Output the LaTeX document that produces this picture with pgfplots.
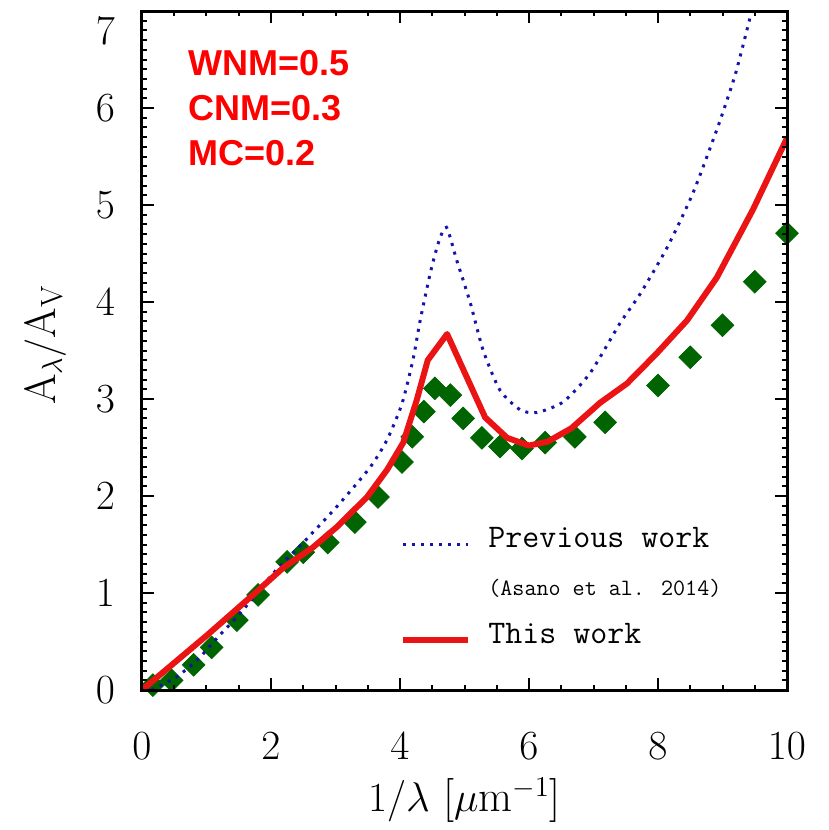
\documentclass[border=0pt]{standalone}
\usepackage{fontspec}
\usepackage{pgfplots}
\pgfplotsset{compat=1.18}
\newfontfamily\arialfont{Liberation Sans}
\definecolor{myred}{RGB}{235,20,20}
\definecolor{txtred}{RGB}{255,0,0}
\definecolor{myblue}{RGB}{20,20,170}
\definecolor{mygreen}{RGB}{0,100,0}
\begin{document}
\begin{tikzpicture}
\useasboundingbox (-71pt,-70pt) rectangle (343.5pt,345pt);
\begin{axis}[
 at={(0pt,0pt)}, anchor=south west,
 scale only axis, width=322.5pt, height=339.5pt,
 xmin=0, xmax=10, ymin=0, ymax=7,
 axis on top, clip mode=individual,
 xtick={0,2,4,6,8,10}, ytick={0,1,2,3,4,5,6},
 extra y ticks={7},
 extra y tick style={yticklabel style={anchor=north east}},
 minor x tick num=3, minor y tick num=9,
 tick align=inside, tick pos=both,
 major tick length=6pt, minor tick length=2.5pt,
 axis line style={line width=1.5pt},
 tick style={draw=black, line width=1pt},
 tick label style={font=\fontsize{21}{25}\selectfont},
 xticklabel style={yshift=-18pt},
 yticklabel style={xshift=-10pt},
 xlabel={$1/\lambda$ [$\mu$m$^{-1}$]},
 ylabel={$\mathrm{A}_{\lambda}/\mathrm{A}_{\mathrm{V}}$},
 xlabel style={font=\fontsize{22}{26}\selectfont, at={(axis description cs:0.5,-0.162)}, anchor=center},
 ylabel style={font=\fontsize{22}{26}\selectfont, at={(axis description cs:-0.15,0.508)}, anchor=center},
 legend style={at={(rel axis cs:0.4,0.246)}, anchor=north west, draw=none, fill=none,
   inner sep=0pt, column sep=8.5pt, row sep=9pt,
   nodes={inner sep=0pt, text height=12pt, text depth=3pt},
   font=\ttfamily\fontsize{16.5}{19}\selectfont},
 legend cell align=left,
 legend image code/.code={\draw[#1] (0pt,-3pt) -- (32.5pt,-3pt);},
]
\addplot[only marks, mark=square*, mark size=4pt, mark options={rotate=45, fill=mygreen, draw=mygreen}, forget plot] coordinates {
(0.17,0.05) (0.46,0.10) (0.8,0.26) (1.08,0.44) (1.47,0.72) (1.8,0.98) (2.25,1.32) (2.5,1.42) (2.88,1.52)
(3.3,1.73) (3.66,1.99) (4.03,2.35) (4.19,2.61) (4.37,2.87) (4.54,3.11) (4.78,3.04) (4.98,2.80)
(5.27,2.60) (5.55,2.51) (5.89,2.49) (6.25,2.55) (6.71,2.61) (7.18,2.76) (8.0,3.14) (8.5,3.43)
(9.0,3.76) (9.5,4.21) (10.0,4.71)
};
\addplot[myblue, line width=1.5pt, dash pattern=on 1.5pt off 3pt, smooth, tension=0.4] coordinates {
(0.15,0.0) (0.5,0.12) (0.74,0.24) (0.93,0.36) (1.21,0.57) (1.4,0.70) (1.7,0.93) (2.03,1.2) (2.5,1.52)
(3.02,1.89) (3.53,2.29) (3.8,2.58) (4.03,2.95) (4.2,3.4) (4.31,3.8) (4.47,4.3) (4.6,4.62) (4.72,4.77)
(4.88,4.43) (5.09,3.99) (5.29,3.5) (5.55,3.09) (5.86,2.89) (6.12,2.86) (6.53,2.97) (6.95,3.27)
(7.41,3.78) (7.72,4.08) (8.14,4.56) (8.54,5.12) (8.93,5.81) (9.2,6.35) (9.43,6.94) (9.6,7.4) (9.8,7.9)
};
\addlegendentry{Previous work}
\addlegendimage{empty legend}
\addlegendentry{\fontsize{11.7}{14}\selectfont(Asano et al. 2014)}
\addplot[myred, line width=3pt, line join=round] coordinates {
(0,0) (1.0,0.56) (1.72,0.98) (2.19,1.26) (2.65,1.47) (3.02,1.68) (3.49,1.99) (3.8,2.27) (4.05,2.55)
(4.26,2.99) (4.43,3.40) (4.73,3.67) (5.32,2.81) (5.66,2.6) (6.0,2.52) (6.29,2.56) (6.66,2.70)
(7.1,2.96) (7.52,3.16) (7.98,3.47) (8.45,3.81) (8.91,4.25) (9.47,4.95) (10,5.69)
};
\addlegendentry{This work}
\pgfplotsinvokeforeach{0,2,4,6,8,10}{
 \draw[black, line width=1pt] (axis cs:#1,0) -- ++(0pt,6pt);
 \draw[black, line width=1pt] (axis cs:#1,7) -- ++(0pt,-6pt);
}
\pgfplotsinvokeforeach{0.5,1,1.5,2.5,3,3.5,4.5,5,5.5,6.5,7,7.5,8.5,9,9.5}{
 \draw[black, line width=1pt] (axis cs:#1,0) -- ++(0pt,2.5pt);
 \draw[black, line width=1pt] (axis cs:#1,7) -- ++(0pt,-2.5pt);
}
\pgfplotsinvokeforeach{0,1,2,3,4,5,6,7}{
 \draw[black, line width=1pt] (axis cs:0,#1) -- ++(6pt,0pt);
 \draw[black, line width=1pt] (axis cs:10,#1) -- ++(-6pt,0pt);
}
\pgfplotsinvokeforeach{0.1,0.2,...,6.95}{
 \draw[black, line width=1pt] (axis cs:0,#1) -- ++(2.5pt,0pt);
 \draw[black, line width=1pt] (axis cs:10,#1) -- ++(-2.5pt,0pt);
}
\node[anchor=base west, inner sep=0pt, text=txtred, font=\arialfont\bfseries\fontsize{18}{21}\selectfont] at (axis cs:0.713,6.34) {WNM=0.5};
\node[anchor=base west, inner sep=0pt, text=txtred, font=\arialfont\bfseries\fontsize{18}{21}\selectfont] at (axis cs:0.713,5.876) {CNM=0.3};
\node[anchor=base west, inner sep=0pt, text=txtred, font=\arialfont\bfseries\fontsize{18}{21}\selectfont] at (axis cs:0.713,5.41) {MC=0.2};
\end{axis}
\end{tikzpicture}
\end{document}
